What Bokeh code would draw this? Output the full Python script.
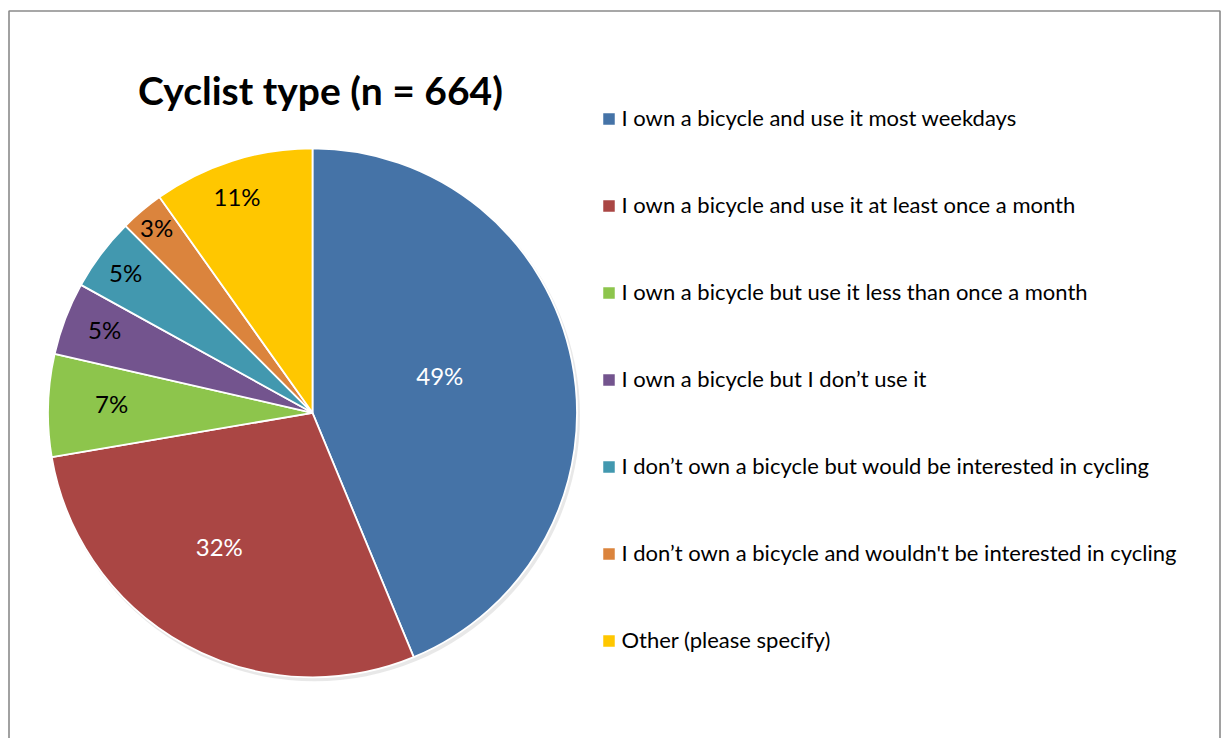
import numpy as np
from bokeh.plotting import figure
from bokeh.models import Range1d, ColumnDataSource
from bokeh.core.properties import value
from bokeh.embed import file_html
from bokeh.resources import INLINE

# ---- data ----
categories = [
    "I own a bicycle and use it most weekdays",
    "I own a bicycle and use it at least once a month",
    "I own a bicycle but use it less than once a month",
    "I own a bicycle but I don\u2019t use it",
    "I don\u2019t own a bicycle but would be interested in cycling",
    "I don\u2019t own a bicycle and wouldn't be interested in cycling",
    "Other (please specify)",
]
percents = [49, 32, 7, 5, 5, 3, 11]
title_text = "Cyclist type (n = 664)"

# ---- style ----
colors = ["#4573A7", "#AA4644", "#8DC54C", "#73548E", "#4298AF", "#DB843D", "#FFC700"]
label_colors = ["white", "white", "black", "black", "black", "black", "black"]
label_r = [0.50, 0.62, 0.76, 0.845, 0.88, 0.91, 0.86]
label_dtheta = [-4.5, 5.7, 0.7, 0.7, -0.4, -0.2, -1.7]
FONT = "Lato"

W, H = 1221, 738


def dx(xs):
    return xs


def dy(ys):
    return H - ys


p = figure(width=W, height=H, x_range=Range1d(0, W), y_range=Range1d(0, H),
           x_axis_type=None, y_axis_type=None, output_backend="svg",
           toolbar_location=None, min_border=0)
p.grid.visible = False
p.outline_line_color = None
p.background_fill_color = "white"
p.border_fill_color = "white"

# frame (top, left, right sides)
p.line(x=[dx(8.5), dx(8.5), dx(1219.5), dx(1219.5)], y=[0, dy(10.5), dy(10.5), 0],
       line_color="#8a8a8a", line_width=1.6)

# pie geometry
cx, cy, R = dx(312), dy(412.3), 264.5
vals = np.array(percents, dtype=float)
frac = vals / vals.sum()
cum = np.concatenate([[0.0], np.cumsum(frac)])
theta0 = 2 * np.pi * cum[:-1]   # clockwise from 12 o'clock
theta1 = 2 * np.pi * cum[1:]
start = np.pi / 2 - theta0
end = np.pi / 2 - theta1

# soft shadow
p.circle(x=[cx + 2], y=[cy - 3], radius=R + 1, fill_color="#bdbdbd",
         fill_alpha=0.35, line_color=None)

src = ColumnDataSource(dict(x=[cx] * len(vals), y=[cy] * len(vals),
                            start=start, end=end, color=colors))
p.wedge(x="x", y="y", radius=R, start_angle="start", end_angle="end",
        direction="clock", fill_color="color", line_color="white",
        line_width=1.8, source=src)

# data labels
mid = (theta0 + theta1) / 2 + np.radians(label_dtheta)
lx = cx + R * np.array(label_r) * np.sin(mid)
ly = cy + R * np.array(label_r) * np.cos(mid) + 1.5
lab = ColumnDataSource(dict(x=lx, y=ly, t=[f"{v}%" for v in percents], c=label_colors))
p.text(x="x", y="y", text="t", text_color="c", source=lab,
       text_font=value(FONT), text_font_size="24px",
       text_align="center", text_baseline="alphabetic")

# title
p.text(x=[dx(320)], y=[dy(89)], text=[title_text], text_font=value(FONT),
       text_font_style="bold", text_font_size="39px", text_color="black",
       text_align="center", text_baseline="alphabetic")

# legend
n = len(categories)
row_y = np.array([dy(118.5 + 87.0 * i) for i in range(n)])
p.rect(x=[dx(608.5)] * n, y=row_y, width=11.5, height=11.5,
       fill_color=colors, line_color=None)
p.text(x=[dx(621)] * n, y=row_y + 2.0, text=categories, text_font=value(FONT),
       text_font_size="22px", text_color="black", text_align="left",
       text_baseline="alphabetic")

open("out.html", "w").write(file_html(p, INLINE))
